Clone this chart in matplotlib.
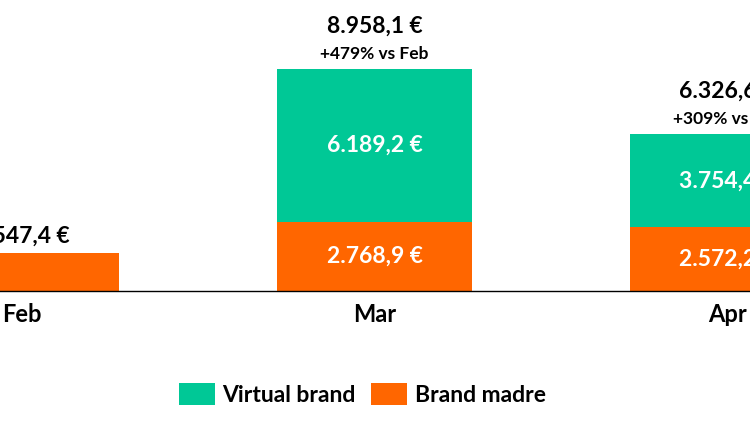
import matplotlib.pyplot as plt
import numpy as np

months = ['Feb', 'Mar', 'Apr']
brand_madre = [1547.4, 2768.9, 2572.2]
virtual_brand = [0.0, 6189.2, 3754.4]

green = '#00C896'
orange = '#FF6600'
plt.rcParams['font.family'] = ['Lato', 'DejaVu Sans']


def eur(v):
    s = f"{v:,.1f}".replace(',', 'X').replace('.', ',').replace('X', '.')
    return s + ' €'


fig = plt.figure(figsize=(7.5, 4.22), dpi=100)
ax = fig.add_axes([0, 131 / 422, 1, 291 / 422])

x = np.arange(len(months))
w = 0.553
madre = np.array(brand_madre)
virt = np.array(virtual_brand)
tot = madre + virt

ax.bar(x, madre, w, color=orange, label='Brand madre')
ax.bar(x, virt, w, bottom=madre, color=green, label='Virtual brand')

for i in range(len(months)):
    if virt[i] > 0:
        ax.text(x[i], madre[i] / 2, eur(madre[i]), ha='center', va='center',
                color='white', fontsize=16.5, fontweight='bold')
        ax.text(x[i], madre[i] + virt[i] / 2, eur(virt[i]), ha='center', va='center',
                color='white', fontsize=16.5, fontweight='bold')
    if i == 0:
        ax.annotate(eur(tot[i]), (x[i], tot[i]), xytext=(0, 7), textcoords='offset points',
                    ha='center', va='baseline', fontsize=16.5, fontweight='bold')
    else:
        pct = round((tot[i] / tot[0] - 1) * 100)
        ax.annotate(f"+{pct}% vs {months[0]}", (x[i], tot[i]), xytext=(0, 7.5),
                    textcoords='offset points', ha='center', va='baseline',
                    fontsize=12.5, fontweight='bold')
        ax.annotate(eur(tot[i]), (x[i], tot[i]), xytext=(0, 26.5), textcoords='offset points',
                    ha='center', va='baseline', fontsize=16.5, fontweight='bold')

ax.set_xlim(-22 / 352.5, 728 / 352.5)
ax.set_ylim(0, 291 / 0.02478)
ax.set_xticks(x)
ax.set_xticklabels(months, fontsize=17, fontweight='bold')
ax.tick_params(axis='x', length=0, pad=9)
ax.set_yticks([])
for s in ['top', 'left', 'right']:
    ax.spines[s].set_visible(False)
ax.spines['bottom'].set_color('black')
ax.spines['bottom'].set_linewidth(1)
ax.patch.set_visible(False)

h, l = ax.get_legend_handles_labels()
fig.legend(h[::-1], l[::-1], loc='center', bbox_to_anchor=(0.483, 0.065), ncol=2,
           frameon=False, prop={'size': 16.5, 'weight': 'bold'}, handlelength=1.57,
           handleheight=1.09, handletextpad=0.31, columnspacing=0.7, borderpad=0)

fig.savefig('out.png', dpi=100)
